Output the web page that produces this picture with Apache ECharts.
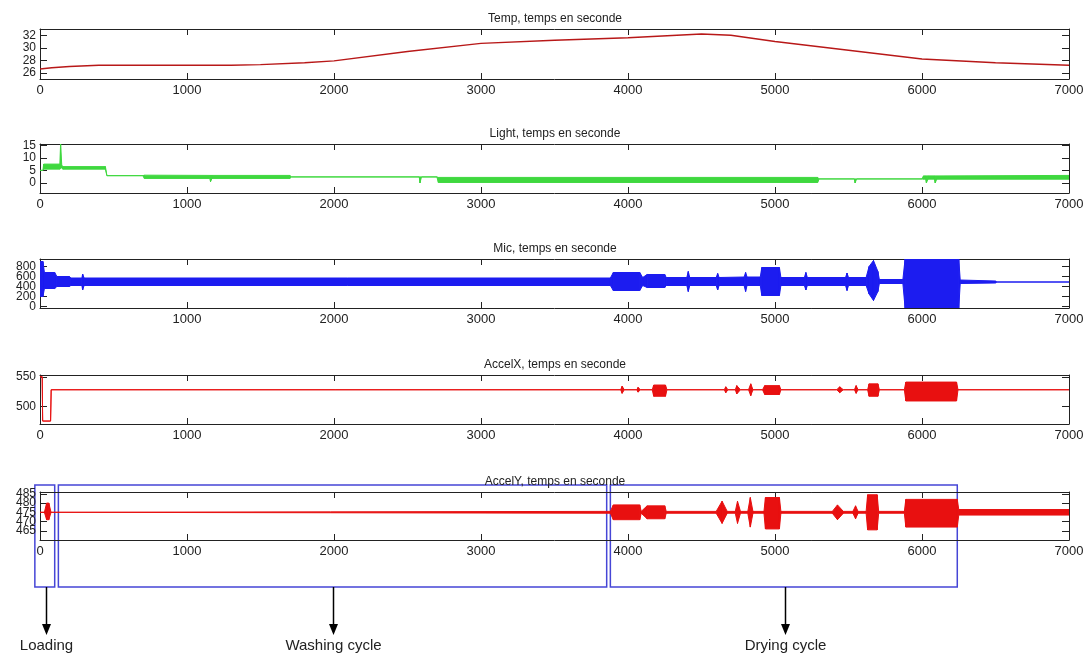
<!DOCTYPE html>
<html>
<head>
<meta charset="utf-8">
<title>Capteurs machine à laver</title>
<style>
  html, body { margin: 0; padding: 0; background: #fff; }
  #main { width: 1087px; height: 658px; }
</style>
<script src="https://cdn.jsdelivr.net/npm/echarts@6/dist/echarts.min.js"></script>
</head>
<body>
<div id="main"></div>
<script>
const panelTitles = [
  "Temp, temps en seconde",
  "Light, temps en seconde",
  "Mic, temps en seconde",
  "AccelX, temps en seconde",
  "AccelY, temps en seconde",
];
const yTickValues = [
  [26, 28, 30, 32],
  [0, 5, 10, 15],
  [0, 200, 400, 600, 800],
  [500, 550],
  [465, 470, 475, 480, 485],
];

const tempTime = [0, 80, 200, 400, 1300, 1500, 1800, 2000, 2500, 3000, 3500, 4000, 4500, 4700, 5000, 5500, 6000, 6500, 7000];
const tempValue = [26.6, 26.8, 27.0, 27.2, 27.2, 27.3, 27.6, 27.9, 29.4, 30.7, 31.2, 31.6, 32.2, 32.0, 31.0, 29.6, 28.2, 27.6, 27.2];

// signaux bruités : enveloppe basse / haute
const lightTime = [0, 20, 25, 135, 140, 148, 155, 445, 455, 700, 710, 1155, 1160, 1170, 1700, 1710, 2580, 2585, 2595, 2700, 2710, 5290, 5300, 5540, 5545, 5555, 6000, 6010, 6025, 6030, 6040, 6085, 6090, 6100, 7000];
const lightLow = [5, 5, 5.5, 5.5, 6, 6, 5.5, 5.5, 2.9, 2.9, 1.8, 1.8, 0.5, 1.8, 1.8, 2.4, 2.4, 0, 2.4, 2.4, 0.2, 0.2, 1.6, 1.6, 0, 1.6, 1.6, 1.5, 1.5, 0, 1.5, 1.5, 0, 1.5, 1.5];
const lightHigh = [5, 5, 7.5, 7.5, 15.5, 7, 6.5, 6.5, 2.9, 2.9, 3.1, 3.0, 3.0, 3.0, 3.0, 2.4, 2.4, 2.4, 2.4, 2.4, 2.2, 2.2, 1.6, 1.6, 1.6, 1.6, 1.6, 2.8, 2.8, 2.8, 2.8, 2.8, 2.8, 2.8, 3.0];

const micTime = [0, 5, 20, 30, 100, 115, 200, 210, 285, 290, 300, 3880, 3900, 4080, 4100, 4130, 4250, 4260, 4400, 4410, 4420, 4600, 4610, 4620, 4790, 4800, 4810, 4900, 4910, 5030, 5040, 5200, 5210, 5220, 5480, 5490, 5500, 5620, 5640, 5670, 5700, 5710, 5870, 5885, 6250, 6260, 6500, 6510, 7000];
const micLow = [480, 200, 200, 360, 360, 400, 400, 420, 420, 330, 420, 420, 320, 320, 420, 380, 380, 420, 420, 300, 420, 420, 330, 420, 420, 300, 420, 420, 220, 220, 420, 420, 330, 420, 420, 320, 420, 420, 250, 120, 300, 460, 460, -30, -30, 460, 470, 490, 490];
const micHigh = [520, 900, 900, 680, 680, 600, 600, 570, 570, 650, 570, 570, 680, 680, 580, 640, 640, 580, 580, 700, 580, 580, 660, 580, 590, 680, 590, 590, 780, 780, 580, 580, 680, 580, 580, 670, 580, 580, 800, 920, 700, 540, 540, 950, 950, 530, 510, 490, 490];

const accelXTime = [0, 15, 18, 72, 76, 3950, 3960, 3975, 4060, 4068, 4085, 4165, 4175, 4255, 4265, 4655, 4665, 4680, 4730, 4740, 4765, 4820, 4835, 4850, 4915, 4930, 5030, 5040, 5420, 5440, 5465, 5540, 5552, 5565, 5630, 5640, 5700, 5710, 5880, 5890, 6235, 6245, 7000];
const accelXLow = [550, 550, 475, 475, 528, 528, 522, 528, 528, 524, 528, 528, 517, 517, 528, 528, 523, 528, 528, 521, 528, 528, 518, 528, 528, 520, 520, 528, 528, 523, 528, 528, 522, 528, 528, 517, 517, 528, 528, 509, 509, 528, 528];
const accelXHigh = [550, 550, 475, 475, 528, 528, 534, 528, 528, 532, 528, 528, 536, 536, 528, 528, 533, 528, 528, 535, 528, 528, 538, 528, 528, 535, 535, 528, 528, 533, 528, 528, 535, 528, 528, 538, 538, 528, 528, 541, 541, 528, 528];

const accelYTime = [0, 30, 45, 60, 75, 3880, 3900, 4080, 4090, 4130, 4250, 4260, 4600, 4640, 4675, 4730, 4745, 4765, 4815, 4832, 4850, 4925, 4935, 5030, 5040, 5390, 5425, 5465, 5530, 5548, 5565, 5620, 5630, 5695, 5705, 5880, 5890, 6240, 6250, 7000];
const accelYLow = [475, 475, 471, 471, 475, 474.5, 471, 471, 474.5, 471.5, 471.5, 474.5, 474.5, 469, 474.5, 474.5, 469, 474.5, 474.5, 467, 474.5, 474.5, 466, 466, 474.5, 474.5, 471, 474.5, 474.5, 471.5, 474.5, 474.5, 465.5, 465.5, 474.5, 474.5, 467, 467, 473.5, 473.5];
const accelYHigh = [475, 475, 480, 480, 475, 475.5, 479, 479, 475.5, 478.5, 478.5, 475.5, 475.5, 481, 475.5, 475.5, 481, 475.5, 475.5, 483, 475.5, 475.5, 483, 483, 475.5, 475.5, 479, 475.5, 475.5, 478.5, 475.5, 475.5, 484.5, 484.5, 475.5, 475.5, 482, 482, 476.5, 476.5];

const phaseNames = ["Loading", "Washing cycle", "Drying cycle"];
const phaseStart = [-35, 125, 3880];
const phaseEnd = [100, 3855, 6240];
const phaseArrow = [40, 1995, 5070];

// mise en page
const font = "'Liberation Sans', Arial, sans-serif";
const gridTops = [29, 144, 259, 375, 492];
const gridHeights = [50, 49, 49, 49, 48];
const yMin = [25, -4, -30, 470, 460];
const yMax = [33, 15.5, 950, 553, 486];
const yLabelSize = [12, 12, 12, 12, 12];
const axisColor = "#222";

const chart = echarts.init(document.getElementById("main"));

const grid = [];
const title = [];
const xAxis = [];
const yAxis = [];
panelTitles.forEach((name, i) => {
  grid.push({ left: 40, right: 18, top: gridTops[i], height: gridHeights[i] });
  title.push({
    text: name,
    left: 550,
    top: gridTops[i] - 21,
    textAlign: "center",
    textStyle: { fontFamily: font, fontSize: 12, fontWeight: "normal", color: "#222" },
  });
  ["bottom", "top"].forEach((pos) => {
    xAxis.push({
      gridIndex: i,
      type: "value",
      position: pos,
      min: 0,
      max: 7000,
      interval: 1000,
      axisLine: { show: true, onZero: false, lineStyle: { color: axisColor, width: 1 } },
      axisTick: { show: true, inside: true, length: 6, lineStyle: { color: axisColor } },
      axisLabel: {
        show: pos === "bottom",
        showMinLabel: i !== 2,
        showMaxLabel: true,
        formatter: (v) => String(v),
        margin: 5,
        fontFamily: font,
        fontSize: 13,
        color: "#222",
      },
      splitLine: { show: false },
    });
  });
  // axe gauche (étiquettes paires), axe droit (cadre), puis un axe gauche
  // sans trait pour les étiquettes impaires, sinon ECharts masque les chevauchements
  const even = yTickValues[i].filter((v, k) => k % 2 === 0);
  const odd = yTickValues[i].filter((v, k) => k % 2 === 1);
  [["left", even, true], ["right", [], true], ["left", odd, false]].forEach(([pos, labels, frame]) => {
    yAxis.push({
      gridIndex: i,
      type: "value",
      position: pos,
      min: yMin[i],
      max: yMax[i],
      axisLine: { show: frame, onZero: false, lineStyle: { color: axisColor, width: 1 } },
      axisTick: { show: frame, inside: true, length: 7, customValues: yTickValues[i], lineStyle: { color: axisColor } },
      axisLabel: {
        show: labels.length > 0,
        customValues: labels.length ? labels : yTickValues[i],
        showMinLabel: true,
        showMaxLabel: true,
        margin: 4,
        fontFamily: font,
        fontSize: yLabelSize[i],
        color: "#222",
      },
      splitLine: { show: false },
    });
  });
});

// chaque tronçon entre deux points de l'enveloppe devient un quadrilatère
function bandSeries(i, time, low, high, color) {
  const segments = time.slice(0, -1).map((t, k) => [t, low[k], high[k], time[k + 1], low[k + 1], high[k + 1]]);
  return {
    type: "custom",
    xAxisIndex: i * 2,
    yAxisIndex: i * 3,
    silent: true,
    clip: true,
    encode: { x: [0, 3], y: [1, 2, 4, 5] },
    data: segments,
    renderItem: (params, api) => {
      const a = api.coord([api.value(0), api.value(1)]);
      const b = api.coord([api.value(0), api.value(2)]);
      const c = api.coord([api.value(3), api.value(5)]);
      const d = api.coord([api.value(3), api.value(4)]);
      return {
        type: "polygon",
        shape: { points: [a, b, c, d] },
        style: { fill: color, stroke: color, lineWidth: 1 },
      };
    },
  };
}

const series = [
  {
    type: "line",
    xAxisIndex: 0,
    yAxisIndex: 0,
    symbol: "none",
    data: tempTime.map((t, k) => [t, tempValue[k]]),
    lineStyle: { color: "#b81818", width: 1.3 },
  },
  bandSeries(1, lightTime, lightLow, lightHigh, "#3fd83f"),
  bandSeries(2, micTime, micLow, micHigh, "#1c1cf0"),
  bandSeries(3, accelXTime, accelXLow, accelXHigh, "#e81010"),
  bandSeries(4, accelYTime, accelYLow, accelYHigh, "#e81010"),
];

chart.setOption({
  animation: false,
  backgroundColor: "#fff",
  title,
  grid,
  xAxis,
  yAxis,
  series,
});

// cadres des phases sous le dernier graphe
const boxTop = gridTops[4] - 7;
const boxBottom = gridTops[4] + gridHeights[4] + 47;
const toPx = (v) => chart.convertToPixel({ xAxisIndex: 8 }, v);
const graphic = [];
phaseNames.forEach((name, k) => {
  const x0 = toPx(phaseStart[k]);
  const x1 = toPx(phaseEnd[k]);
  const ax = Math.round(toPx(phaseArrow[k])) + 0.5;
  graphic.push({
    type: "rect",
    shape: { x: x0, y: boxTop, width: x1 - x0, height: boxBottom - boxTop },
    style: { fill: "none", stroke: "#4646d6", lineWidth: 1.5 },
  });
  graphic.push({
    type: "line",
    shape: { x1: ax, y1: boxBottom, x2: ax, y2: boxBottom + 40 },
    style: { stroke: "#000", lineWidth: 1.5 },
  });
  graphic.push({
    type: "polygon",
    shape: { points: [[ax - 4.5, boxBottom + 37], [ax + 4.5, boxBottom + 37], [ax, boxBottom + 48]] },
    style: { fill: "#000" },
  });
  graphic.push({
    type: "text",
    style: {
      text: name,
      x: ax,
      y: boxBottom + 59,
      align: "center",
      verticalAlign: "middle",
      font: "15px " + font,
      fill: "#222",
    },
  });
});
chart.setOption({ graphic });
</script>
</body>
</html>
